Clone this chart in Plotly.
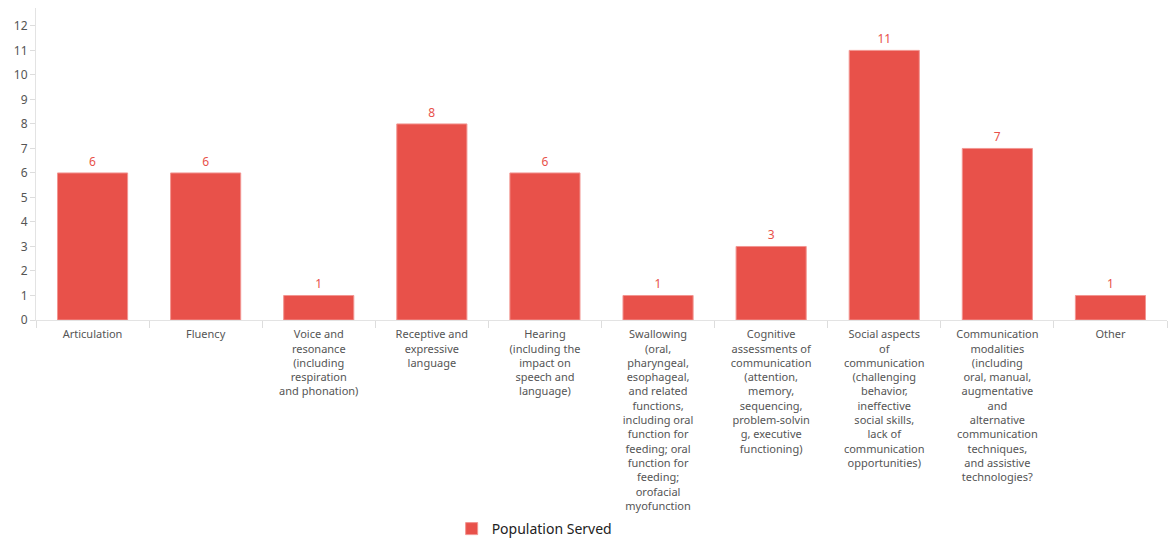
import plotly.graph_objects as go

# Population served per service area
categories = [
    "Articulation",
    "Fluency",
    "Voice and resonance (including respiration and phonation)",
    "Receptive and expressive language",
    "Hearing (including the impact on speech and language)",
    "Swallowing (oral, pharyngeal, esophageal, and related functions, including oral function for feeding; oral function for feeding; orofacial myofunction",
    "Cognitive assessments of communication (attention, memory, sequencing, problem-solving, executive functioning)",
    "Social aspects of communication (challenging behavior, ineffective social skills, lack of communication opportunities)",
    "Communication modalities (including oral, manual, augmentative and alternative communication techniques, and assistive technologies?",
    "Other",
]
values = [6, 6, 1, 8, 6, 1, 3, 11, 7, 1]

tick_labels = [
    "Articulation",
    "Fluency",
    "Voice and<br>resonance<br>(including<br>respiration<br>and phonation)",
    "Receptive and<br>expressive<br>language",
    "Hearing<br>(including the<br>impact on<br>speech and<br>language)",
    "Swallowing<br>(oral,<br>pharyngeal,<br>esophageal,<br>and related<br>functions,<br>including oral<br>function for<br>feeding; oral<br>function for<br>feeding;<br>orofacial<br>myofunction",
    "Cognitive<br>assessments of<br>communication<br>(attention,<br>memory,<br>sequencing,<br>problem-solvin<br>g, executive<br>functioning)",
    "Social aspects<br>of<br>communication<br>(challenging<br>behavior,<br>ineffective<br>social skills,<br>lack of<br>communication<br>opportunities)",
    "Communication<br>modalities<br>(including<br>oral, manual,<br>augmentative<br>and<br>alternative<br>communication<br>techniques,<br>and assistive<br>technologies?",
    "Other",
]
y_ticks = list(range(0, 13))

BAR = "#E8514A"
FONT = "Noto Sans"

fig = go.Figure(
    go.Bar(
        x=categories,
        y=values,
        name="Population Served",
        marker=dict(color=BAR, line=dict(color="#F29591", width=1)),
        text=values,
        textposition="outside",
        textfont=dict(color=BAR, size=12, family=FONT),
        cliponaxis=False,
    )
)

fig.update_layout(
    width=1168,
    height=538,
    margin=dict(l=36, r=1, t=8, b=218, autoexpand=False),
    plot_bgcolor="white",
    paper_bgcolor="white",
    bargap=0.38,
    font=dict(family=FONT, size=11, color="#555555"),
    showlegend=True,
    legend=dict(
        orientation="h",
        x=0.3675,
        xanchor="left",
        yref="container",
        y=0.0167,
        yanchor="middle",
        font=dict(size=14, color="#222222", family=FONT),
    ),
)

fig.update_xaxes(
    tickmode="array",
    tickvals=categories,
    ticktext=tick_labels,
    tickangle=0,
    tickson="boundaries",
    ticks="outside",
    ticklen=7,
    tickcolor="#dddddd",
    ticklabelstandoff=4,
    automargin=False,
    showline=True,
    linecolor="#e3e3e3",
    linewidth=1,
    showgrid=False,
    tickfont=dict(size=11, color="#555555"),
)

fig.update_yaxes(
    range=[0, 12.73],
    tickmode="array",
    tickvals=y_ticks,
    ticks="outside",
    ticklen=5,
    tickcolor="#dddddd",
    automargin=False,
    showline=True,
    linecolor="#e3e3e3",
    linewidth=1,
    showgrid=False,
    zeroline=False,
    tickfont=dict(size=12, color="#555555"),
)

fig.write_html("out.html")
